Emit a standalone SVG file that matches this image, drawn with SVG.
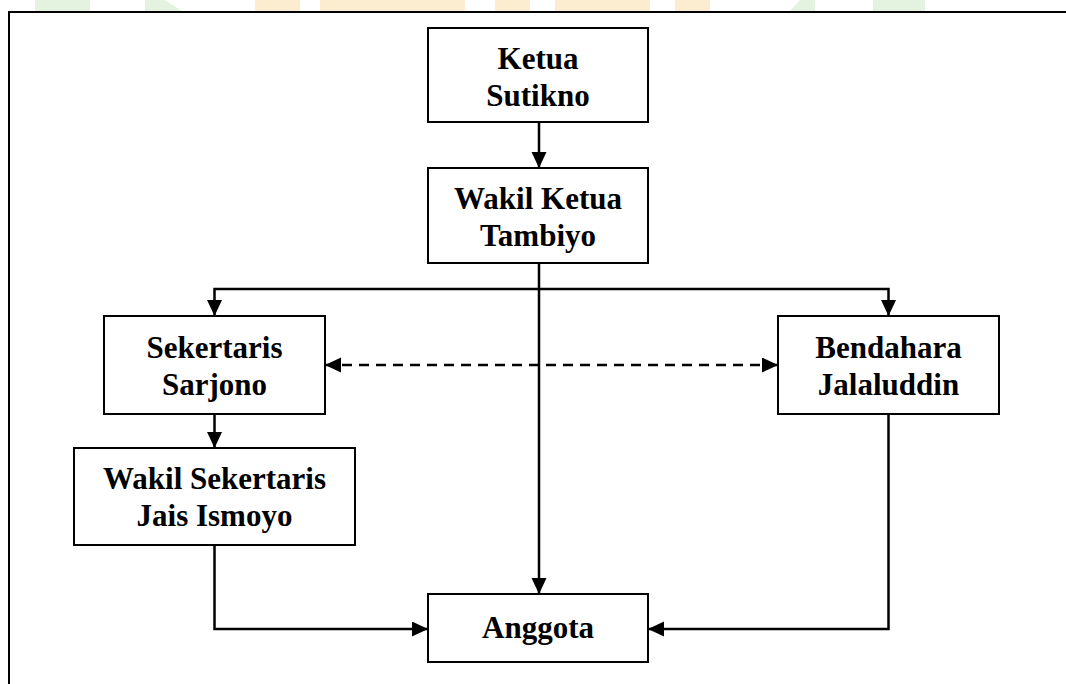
<svg xmlns="http://www.w3.org/2000/svg" width="1066" height="684" viewBox="0 0 1066 684">
<style>
.box{fill:#fff;stroke:#000;stroke-width:2}
.lbl{font-family:"Liberation Serif","Times New Roman",serif;font-weight:bold;font-size:31px;fill:#000;text-anchor:middle}
.con{fill:none;stroke:#000;stroke-width:2.5}
.dash{stroke-dasharray:10 7}
.frame{fill:none;stroke:#000;stroke-width:2}
</style>
<defs>
<marker id="ah" markerUnits="userSpaceOnUse" markerWidth="17" markerHeight="16" refX="16" refY="7.5" orient="auto-start-reverse">
<path d="M0,0 L16,7.5 L0,15 z" fill="#000"/>
</marker>
</defs>
<rect width="1066" height="684" fill="#fff"/>
<g id="watermark" opacity="0.3">
<rect x="35" y="0" width="55" height="11" fill="#a8d89a"/>
<polygon points="145,0 165,0 182,11 145,11" fill="#a8d89a"/>
<rect x="255" y="0" width="45" height="11" fill="#f7c46a"/>
<rect x="320" y="0" width="145" height="11" fill="#f7c46a"/>
<rect x="495" y="0" width="35" height="11" fill="#f7c46a"/>
<rect x="555" y="0" width="95" height="11" fill="#f7c46a"/>
<rect x="675" y="0" width="35" height="11" fill="#f7c46a"/>
<polygon points="800,0 815,0 815,11 790,11" fill="#a8d89a"/>
<rect x="873" y="0" width="52" height="11" fill="#a8d89a"/>
</g>
<g id="frame">
<path class="frame" d="M9,684 L9,12 L1066,12"/>
</g>
<g id="connectors">
<path class="con" d="M539,122 L539,168" marker-end="url(#ah)"/>
<path class="con" d="M539,263 L539,594" marker-end="url(#ah)"/>
<path class="con" d="M214.5,316 L214.5,289 L888.5,289 L888.5,316" marker-start="url(#ah)" marker-end="url(#ah)"/>
<path class="con dash" d="M325,365 L778,365" marker-start="url(#ah)" marker-end="url(#ah)"/>
<path class="con" d="M214.5,414 L214.5,448" marker-end="url(#ah)"/>
<path class="con" d="M214.5,545 L214.5,629 L428,629" marker-end="url(#ah)"/>
<path class="con" d="M888.5,414 L888.5,629 L648,629" marker-end="url(#ah)"/>
</g>
<g id="ketua">
<rect class="box" x="428" y="28" width="220" height="94"/>
<text class="lbl" x="538" y="68.5">Ketua</text>
<text class="lbl" x="538" y="105.5">Sutikno</text>
</g>
<g id="wakil-ketua">
<rect class="box" x="428" y="168" width="220" height="95"/>
<text class="lbl" x="538" y="209">Wakil Ketua</text>
<text class="lbl" x="538" y="246">Tambiyo</text>
</g>
<g id="sekertaris">
<rect class="box" x="104" y="316" width="221" height="98"/>
<text class="lbl" x="214.5" y="358">Sekertaris</text>
<text class="lbl" x="214.5" y="395">Sarjono</text>
</g>
<g id="bendahara">
<rect class="box" x="778" y="316" width="221" height="98"/>
<text class="lbl" x="888.5" y="358">Bendahara</text>
<text class="lbl" x="888.5" y="395">Jalaluddin</text>
</g>
<g id="wakil-sekertaris">
<rect class="box" x="74" y="448" width="281" height="97"/>
<text class="lbl" x="214.5" y="489">Wakil Sekertaris</text>
<text class="lbl" x="214.5" y="526">Jais Ismoyo</text>
</g>
<g id="anggota">
<rect class="box" x="428" y="594" width="220" height="68"/>
<text class="lbl" x="538" y="638">Anggota</text>
</g>
</svg>
